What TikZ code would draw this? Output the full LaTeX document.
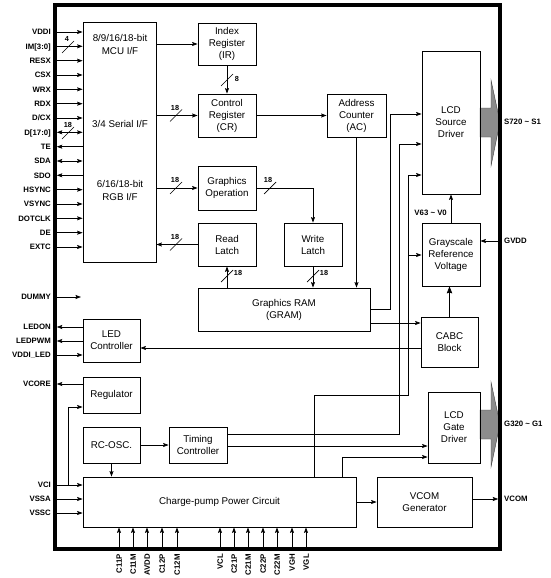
\documentclass[tikz,border=0pt]{standalone}
\usepackage{fontspec}
\setmainfont{Liberation Sans}
\usetikzlibrary{arrows.meta,calc}
\newcommand\mkblock[6]{\node[box, minimum width={(#4-#2)*1pt}, minimum height={(#5-#3)*1pt}] (#1) at ({(#2+#4)/2},{(#3+#5)/2}) {#6};}
\newcommand\slsh[2]{\draw[wire] ({#1-6},{#2+6}) -- ({#1+6},{#2-6});}
\begin{document}
\begin{tikzpicture}[x=1pt,y=-1pt,
  box/.style={draw, line width=0.8pt, inner sep=0pt, align=center, font=\fontsize{9.8}{12}\selectfont},
  txt/.style={inner sep=0pt, align=center, font=\fontsize{9.8}{13}\selectfont},
  pin/.style={inner sep=0pt, font=\fontsize{7.8}{8}\selectfont\bfseries, text height=5.6pt, text depth=0pt},
  num/.style={inner sep=0pt, font=\fontsize{7.3}{8}\selectfont\bfseries},
  wire/.style={line width=0.7pt},
  arrIn/.style={wire,-{Stealth[length=5.5pt,width=4pt,inset=1pt]}},
  arrOut/.style={wire,{Stealth[length=5.5pt,width=4pt,inset=1pt]}-},
  arrBoth/.style={wire,{Stealth[length=5.5pt,width=4pt,inset=1pt]}-{Stealth[length=5.5pt,width=4pt,inset=1pt]}},
  arrBig/.style={wire,-{Stealth[length=7pt,width=5.5pt,inset=1pt]}},
  bigarrow/.style={fill=black!45, draw=black!75, line width=0.4pt}
]
\useasboundingbox (0,0) rectangle (551,578);

% gray output arrows
\path[bigarrow] (480,108) -- (491,108) -- (491,80) -- (500,122) -- (491,166) -- (491,137) -- (480,137) -- cycle;
\path[bigarrow] (480,410) -- (491,410) -- (491,382) -- (500,424) -- (491,467) -- (491,439) -- (480,439) -- cycle;

% chip outline
\node[draw, line width=3.5pt, outer sep=-1.75pt, minimum width=445pt, minimum height=544pt] (chip) at (277.5,277) {};

% blocks
\mkblock{mcu}{83}{22}{156}{262}{}
\mkblock{ir}{198}{23}{256}{65}{Index\\Register\\(IR)}
\mkblock{cr}{198}{94}{256}{137}{Control\\Register\\(CR)}
\mkblock{ac}{327}{94}{386}{137}{Address\\Counter\\(AC)}
\mkblock{gop}{198}{166}{256}{210}{Graphics\\Operation}
\mkblock{rl}{198}{223}{256}{266}{Read\\Latch}
\mkblock{wl}{284}{223}{342}{266}{Write\\Latch}
\mkblock{gram}{198}{288}{370}{331}{Graphics RAM\\(GRAM)}
\mkblock{sd}{422}{51}{480}{194}{LCD\\Source\\Driver}
\mkblock{grv}{422}{223}{480}{286}{Grayscale\\Reference\\Voltage}
\mkblock{cabc}{421}{317}{478}{367}{CABC\\Block}
\mkblock{led}{83}{319}{140}{362}{LED\\Controller}
\mkblock{reg}{83}{377}{140}{413}{Regulator}
\mkblock{rc}{83}{427}{140}{463}{RC-OSC.}
\mkblock{tc}{169}{427}{227}{463}{Timing\\Controller}
\mkblock{cp}{83}{477}{356}{527}{Charge-pump Power Circuit}
\mkblock{gd}{428}{392}{480}{463}{LCD\\Gate\\Driver}
\mkblock{vcom}{377}{477}{472}{527}{VCOM\\Generator}

\node[txt] (mcut1) at (120,44.5) {8/9/16/18-bit\\MCU I/F};
\node[txt] (mcut2) at (120,124) {3/4 Serial I/F};
\node[txt] (mcut3) at (120,190.5) {6/16/18-bit\\RGB I/F};

% left pins to MCU
\node[pin, anchor=east] (VDDI) at (51,32) {VDDI};
\node[pin, anchor=east] (IM) at (51,46.3) {IM[3:0]};
\node[pin, anchor=east] (RESX) at (51,60.7) {RESX};
\node[pin, anchor=east] (CSX) at (51,75) {CSX};
\node[pin, anchor=east] (WRX) at (51,89.3) {WRX};
\node[pin, anchor=east] (RDX) at (51,103.7) {RDX};
\node[pin, anchor=east] (DCX) at (51,118) {D/CX};
\node[pin, anchor=east] (DD) at (51,132.3) {D[17:0]};
\node[pin, anchor=east] (TE) at (51,146.7) {TE};
\node[pin, anchor=east] (SDA) at (51,161) {SDA};
\node[pin, anchor=east] (SDO) at (51,175.3) {SDO};
\node[pin, anchor=east] (HSYNC) at (51,189.7) {HSYNC};
\node[pin, anchor=east] (VSYNC) at (51,204) {VSYNC};
\node[pin, anchor=east] (DOTCLK) at (51,218.3) {DOTCLK};
\node[pin, anchor=east] (DE) at (51,232.7) {DE};
\node[pin, anchor=east] (EXTC) at (51,247) {EXTC};
\foreach \p in {VDDI,IM,RESX,CSX,WRX,RDX,DCX,HSYNC,VSYNC,DOTCLK,DE,EXTC}
  \draw[arrIn] (chip.west |- \p) -- (mcu.west |- \p);
\foreach \p in {TE,SDO}
  \draw[arrOut] (chip.west |- \p) -- (mcu.west |- \p);
\foreach \p in {DD,SDA}
  \draw[arrBoth] (chip.west |- \p) -- (mcu.west |- \p);
\slsh{68}{47}
\node[num] (n4) at (67,39) {4};
\slsh{68}{133}
\node[num] (n18a) at (68,125) {18};

% other left pins
\node[pin, anchor=east] (DUMMY) at (51,297) {DUMMY};
\coordinate (dummyend) at (81,297);
\draw[arrIn] (chip.west |- DUMMY) -- (dummyend);
\node[pin, anchor=east] (LEDON) at (51,327) {LEDON};
\node[pin, anchor=east] (LEDPWM) at (51,341) {LEDPWM};
\node[pin, anchor=east] (VDDILED) at (51,355) {VDDI\_LED};
\draw[arrOut] (chip.west |- LEDON) -- (led.west |- LEDON);
\draw[arrOut] (chip.west |- LEDPWM) -- (led.west |- LEDPWM);
\draw[arrIn] (chip.west |- VDDILED) -- (led.west |- VDDILED);
\node[pin, anchor=east] (VCORE) at (51,384) {VCORE};
\draw[arrOut] (chip.west |- VCORE) -- (reg.west |- VCORE);
\node[pin, anchor=east] (VCI) at (51,485) {VCI};
\node[pin, anchor=east] (VSSA) at (51,499) {VSSA};
\node[pin, anchor=east] (VSSC) at (51,513) {VSSC};
\foreach \p in {VCI,VSSA,VSSC}
  \draw[arrIn] (chip.west |- \p) -- (cp.west |- \p);
\coordinate (vcibr) at (68,485);
\draw[arrIn] (vcibr) |- (reg.west |- 0,407);

% bottom pins
\foreach \p/\xx in {C11P/119,C11M/133,AVDD/147,C12P/162,C12M/177,VCL/220,C21P/234,C21M/248,C22P/263,C22M/277,VGH/292,VGL/306}{
  \node[pin, rotate=90, anchor=east] (\p) at (\xx,554) {\p};
  \draw[arrIn] (chip.south -| \p) -- (cp.south -| \p);
}

% internal connections
\draw[arrIn] (mcu.east |- ir.west) -- (ir.west);
\draw[arrIn] (mcu.east |- cr.west) -- (cr.west);
\slsh{176}{115.5}
\node[num] (n18b) at (175,108) {18};
\draw[arrIn] (ir.south) -- (cr.north);
\slsh{227}{80}
\node[num] (n8) at (237,79) {8};
\draw[arrIn] (cr.east) -- (ac.west);
\draw[arrIn] (mcu.east |- gop.west) -- (gop.west);
\slsh{176}{188}
\node[num] (n18c) at (175,180) {18};
\draw[arrIn] (gop.east) -| (wl.north);
\slsh{270}{188}
\node[num] (n18d) at (268,180) {18};
\draw[arrIn] (rl.west) -- (mcu.east |- rl.west);
\slsh{176}{244.5}
\node[num] (n18e) at (175,237) {18};
\draw[arrIn] (rl.south |- gram.north) -- (rl.south);
\slsh{227}{276}
\node[num] (n18f) at (238,273) {18};
\draw[arrIn] (wl.south) -- (wl.south |- gram.north);
\slsh{313}{276}
\node[num] (n18g) at (324,273) {18};
\draw[arrIn] (ac.south) -- (ac.south |- gram.north);

\draw[arrIn] (gram.east) -- ++(20,0) |- (sd.west |- 0,114);
\draw[arrIn] (gram.east |- 0,323) -- (cabc.west |- 0,323);
\draw[arrIn] (cabc.west |- 0,348) -- (led.east |- 0,348);
\draw[arrBig] (cabc.north) -- (cabc.north |- grv.south);
\draw[arrIn] (grv.north) -- (grv.north |- sd.south);
\node[pin, anchor=east] (v63) at (447,213) {V63 \textasciitilde{} V0};
\node[pin, anchor=west] (GVDD) at (504,241) {GVDD};
\draw[arrIn] (chip.east |- GVDD) -- (grv.east |- GVDD);

\draw[arrIn] (tc.east |- 0,434) -| (399,144) -- (sd.west |- 0,144);
\draw[arrIn] (tc.east |- 0,446) -- (gd.west |- 0,446);
\draw[arrIn] (cp.north -| 314,0) -- (314,395) -| (408,175) -- (sd.west |- 0,175);
\coordinate (grvbr) at (408,255);
\draw[arrIn] (grvbr) -- (grv.west |- grvbr);
\draw[arrIn] (cp.north -| 342,0) |- (gd.west |- 0,457);
\draw[arrIn] (rc.east) -- (tc.west);
\draw[arrIn] (rc.south) -- (rc.south |- cp.north);
\draw[arrIn] (cp.east) -- (vcom.west);
\node[pin, anchor=west] (VCOM) at (504,499) {VCOM};
\draw[arrIn] (vcom.east |- VCOM) -- (chip.east |- VCOM);

\node[pin, anchor=west] (S720) at (504,122) {S720 \textasciitilde{} S1};
\node[pin, anchor=west] (G320) at (504,424) {G320 \textasciitilde{} G1};
\end{tikzpicture}
\end{document}
